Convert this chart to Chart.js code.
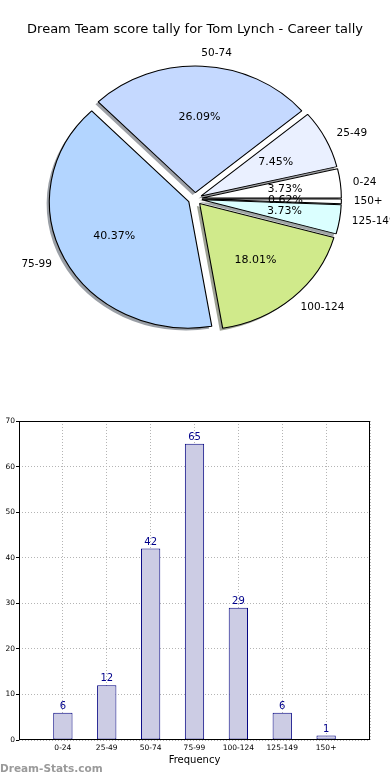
<!DOCTYPE html>
<html>
<head>
<meta charset="utf-8">
<title>Dream Team score tally for Tom Lynch</title>
<script src="https://cdn.jsdelivr.net/npm/chart.js@4/dist/chart.umd.min.js"></script>
<style>
  html, body { margin: 0; padding: 0; background: #fff; }
  body { width: 390px; height: 780px; position: relative; overflow: hidden; }
  #pieBox { position: absolute; left: 0; top: 0; width: 390px; height: 400px; }
  #barBox { position: absolute; left: 0; top: 400px; width: 390px; height: 380px; }
  #brand { position: absolute; left: 0; top: 762px; font: bold 10.5px "DejaVu Sans", sans-serif; color: #9a9a9a; }
</style>
</head>
<body>
<div id="pieBox"><canvas id="pie"></canvas></div>
<div id="barBox"><canvas id="bar"></canvas></div>
<div id="brand">Dream-Stats.com</div>
<script>
// score ranges and how many games fell in each
var categories = ['0-24', '25-49', '50-74', '75-99', '100-124', '125-149', '150+'];
var counts = [6, 12, 42, 65, 29, 6, 1];

var sliceColors = ['#ffffff', '#eaf0ff', '#c5d9ff', '#b3d5ff', '#d0ea8b', '#dbffff', '#ffffff'];

Chart.defaults.font.family = '"DejaVu Sans", sans-serif';
Chart.defaults.color = '#000';

var total = counts.reduce(function (a, b) { return a + b; }, 0);

// matplotlib goes counter-clockwise from 3 o'clock, chart.js clockwise -> reverse
var pieLabels = categories.slice().reverse();
var pieValues = counts.slice().reverse();
var pieColors = sliceColors.slice().reverse();

var EXPLODE = 6.3;   // px, like explode=0.05
var SX = 1.103;      // pie is squashed (axes not equal)
var SHADOW = 2.5;

function shade(hex) {
    var n = parseInt(hex.slice(1), 16);
    var r = Math.round(((n >> 16) & 255) * 0.3);
    var g = Math.round(((n >> 8) & 255) * 0.3);
    var b = Math.round((n & 255) * 0.3);
    return 'rgba(' + r + ',' + g + ',' + b + ',0.5)';
}

var piePlugin = {
    id: 'mplPie',
    beforeDatasetsDraw: function (chart) {
        var ctx = chart.ctx;
        var meta = chart.getDatasetMeta(0);
        var a = chart.chartArea;
        var cx = (a.left + a.right) / 2, cy = (a.top + a.bottom) / 2;
        ctx.save();
        ctx.translate(cx, cy);
        ctx.scale(SX, 1);
        ctx.translate(-cx, -cy);
        // shadows first
        meta.data.forEach(function (arc) {
            var mid = (arc.startAngle + arc.endAngle) / 2;
            var o = arc.options;
            var bg = o.backgroundColor, bc = o.borderColor;
            o.backgroundColor = shade(bg);
            o.borderColor = 'rgba(0,0,0,0)';
            ctx.save();
            ctx.translate(Math.cos(mid) * EXPLODE - SHADOW, Math.sin(mid) * EXPLODE + SHADOW);
            arc.draw(ctx);
            ctx.restore();
            o.backgroundColor = bg;
            o.borderColor = bc;
        });
        meta.data.forEach(function (arc) {
            var mid = (arc.startAngle + arc.endAngle) / 2;
            ctx.save();
            ctx.translate(Math.cos(mid) * EXPLODE, Math.sin(mid) * EXPLODE);
            arc.draw(ctx);
            ctx.restore();
        });
        ctx.restore();
        return false;
    },
    afterDraw: function (chart) {
        var ctx = chart.ctx;
        var meta = chart.getDatasetMeta(0);
        ctx.save();
        ctx.fillStyle = '#000';
        ctx.textBaseline = 'middle';
        meta.data.forEach(function (arc, i) {
            var mid = (arc.startAngle + arc.endAngle) / 2;
            var R = arc.outerRadius;
            var ux = Math.cos(mid), uy = Math.sin(mid);
            var d = EXPLODE + 1.1 * R;
            ctx.font = '10.5px "DejaVu Sans"';
            ctx.textAlign = ux > 0 ? 'left' : 'right';
            ctx.fillText(pieLabels[i], arc.x + SX * ux * d - (ux > 0 ? 1.5 : 0), arc.y + uy * d);
            d = EXPLODE + 0.6 * R;
            ctx.font = '11px "DejaVu Sans"';
            ctx.textAlign = 'center';
            ctx.fillText((100 * pieValues[i] / total).toFixed(2) + '%', arc.x + SX * ux * d, arc.y + uy * d);
        });
        ctx.restore();
    }
};

new Chart(document.getElementById('pie'), {
    type: 'pie',
    data: {
        labels: pieLabels,
        datasets: [{
            data: pieValues,
            backgroundColor: pieColors,
            borderColor: '#000',
            borderWidth: 1
        }]
    },
    options: {
        responsive: true,
        maintainAspectRatio: false,
        animation: false,
        events: [],
        radius: 126.4,
        rotation: 90,
        layout: { padding: { bottom: 42 } },
        plugins: {
            legend: { display: false },
            tooltip: { enabled: false },
            title: {
                display: true,
                text: 'Dream Team score tally for Tom Lynch - Career tally',
                font: { size: 13, weight: 'normal' },
                color: '#000',
                padding: { top: 22, bottom: 2 }
            }
        }
    },
    plugins: [piePlugin]
});

var barPlugin = {
    id: 'mplBar',
    afterDraw: function (chart) {
        var ctx = chart.ctx;
        var a = chart.chartArea;
        ctx.save();
        ctx.strokeStyle = '#000';
        ctx.lineWidth = 1;
        ctx.strokeRect(Math.round(a.left) + 0.5, Math.round(a.top) + 0.5,
            Math.round(a.right - a.left) - 1, Math.round(a.bottom - a.top) - 1);
        ctx.fillStyle = '#00008b';
        ctx.font = '10px "DejaVu Sans"';
        ctx.textAlign = 'center';
        ctx.textBaseline = 'bottom';
        chart.getDatasetMeta(0).data.forEach(function (bar, i) {
            ctx.fillText(counts[i], bar.x, bar.y - 1.5);
        });
        ctx.restore();
    }
};

new Chart(document.getElementById('bar'), {
    type: 'bar',
    data: {
        datasets: [{
            data: counts.map(function (c, i) { return { x: i, y: c }; }),
            backgroundColor: '#ccccE4',
            borderColor: '#000080',
            borderWidth: 1,
            borderSkipped: false,
            barPercentage: 0.44,
            categoryPercentage: 1
        }]
    },
    options: {
        responsive: true,
        maintainAspectRatio: false,
        animation: false,
        events: [],
        layout: { padding: { top: 21, right: 20, left: 0, bottom: 0 } },
        plugins: { legend: { display: false }, tooltip: { enabled: false } },
        scales: {
            x: {
                type: 'linear',
                min: -1,
                max: 7,
                offset: false,
                z: 1,
                grid: { offset: false, color: '#b4b4b4', drawTicks: false },
                border: { display: false, dash: [1, 2] },
                ticks: {
                    stepSize: 1,
                    autoSkip: false,
                    maxRotation: 0,
                    padding: 4,
                    font: { size: 7.5 },
                    color: '#000',
                    callback: function (v) { return categories[v] || ''; }
                },
                title: {
                    display: true,
                    text: 'Frequency',
                    font: { size: 10 },
                    color: '#000',
                    padding: { top: 0, bottom: 14 }
                },
                afterFit: function (s) { s.height = 40; }
            },
            y: {
                min: 0,
                max: 70,
                z: 1,
                grid: { color: '#b4b4b4', tickColor: '#000', tickLength: 3, tickBorderDash: [] },
                border: { display: false, dash: [1, 2] },
                ticks: { stepSize: 10, padding: 1, font: { size: 7.5 }, color: '#000' },
                afterFit: function (s) { s.width = 19; }
            }
        }
    },
    plugins: [barPlugin]
});
</script>
</body>
</html>
